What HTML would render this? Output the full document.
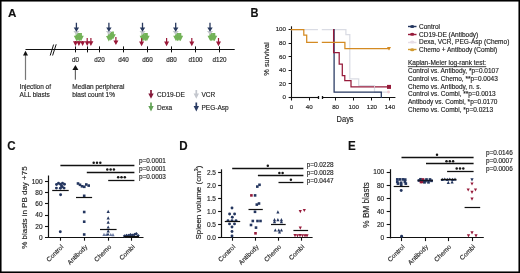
<!DOCTYPE html>
<html><head><meta charset="utf-8"><style>
html,body{margin:0;padding:0;background:#fff;}
body{width:520px;height:273px;overflow:hidden;}
svg{display:block;font-family:"Liberation Sans", sans-serif;will-change:transform;filter:blur(0.3px);}
text{stroke:#1e1e1e;stroke-width:0.15px;paint-order:stroke;}
</style></head><body>
<svg width="520" height="273" viewBox="0 0 520 273">
<rect x="0" y="0" width="520" height="273" fill="#fff"/>
<text x="8.1" y="16.9" font-size="11.6" text-anchor="start" fill="#111" font-weight="bold" >A</text>
<line x1="25.5" y1="49.5" x2="234.7" y2="49.5" stroke="#111" stroke-width="1.2" />
<line x1="50.2" y1="55.5" x2="53.6" y2="44.5" stroke="#111" stroke-width="1.0" />
<line x1="52.6" y1="55.5" x2="56.2" y2="44.3" stroke="#111" stroke-width="1.0" />
<line x1="75.5" y1="46.4" x2="75.5" y2="52.4" stroke="#111" stroke-width="1.0" />
<line x1="87.5" y1="46.4" x2="87.5" y2="52.4" stroke="#111" stroke-width="1.0" />
<line x1="99.5" y1="46.4" x2="99.5" y2="52.4" stroke="#111" stroke-width="1.0" />
<line x1="123.5" y1="46.4" x2="123.5" y2="52.4" stroke="#111" stroke-width="1.0" />
<line x1="147.5" y1="46.4" x2="147.5" y2="52.4" stroke="#111" stroke-width="1.0" />
<line x1="171.5" y1="46.4" x2="171.5" y2="52.4" stroke="#111" stroke-width="1.0" />
<line x1="195.5" y1="46.4" x2="195.5" y2="52.4" stroke="#111" stroke-width="1.0" />
<line x1="219.5" y1="46.4" x2="219.5" y2="52.4" stroke="#111" stroke-width="1.0" />
<text x="75.5" y="62.0" font-size="6.3" text-anchor="middle" fill="#1e1e1e" font-weight="normal" >d0</text>
<text x="99.5" y="62.0" font-size="6.3" text-anchor="middle" fill="#1e1e1e" font-weight="normal" >d20</text>
<text x="123.5" y="62.0" font-size="6.3" text-anchor="middle" fill="#1e1e1e" font-weight="normal" >d40</text>
<text x="147.5" y="62.0" font-size="6.3" text-anchor="middle" fill="#1e1e1e" font-weight="normal" >d60</text>
<text x="171.5" y="62.0" font-size="6.3" text-anchor="middle" fill="#1e1e1e" font-weight="normal" >d80</text>
<text x="195.5" y="62.0" font-size="6.3" text-anchor="middle" fill="#1e1e1e" font-weight="normal" >d100</text>
<text x="219.5" y="62.0" font-size="6.3" text-anchor="middle" fill="#1e1e1e" font-weight="normal" >d120</text>
<rect x="24.9" y="55.0" width="1.2" height="24.900000000000006" fill="#777"/>
<polygon points="25.50,50.80 28.00,55.50 23.00,55.50" fill="#111" />
<rect x="74.80000000000001" y="69.5" width="1.2" height="10.200000000000003" fill="#666"/>
<polygon points="75.40,65.00 78.40,70.00 72.40,70.00" fill="#111" />
<text x="19.6" y="89" font-size="6.5" text-anchor="start" fill="#1e1e1e" font-weight="normal" >Injection of</text>
<text x="19.6" y="96.6" font-size="6.5" text-anchor="start" fill="#1e1e1e" font-weight="normal" >ALL blasts</text>
<text x="72.3" y="89" font-size="6.5" text-anchor="start" fill="#1e1e1e" font-weight="normal" >Median peripheral</text>
<text x="72.3" y="96.6" font-size="6.5" text-anchor="start" fill="#1e1e1e" font-weight="normal" >blast count 1%</text>
<polygon points="75.70,33.00 77.50,33.00 77.50,35.80 79.40,35.80 76.60,41.20 73.80,35.80 75.70,35.80" fill="#72b257" />
<polygon points="77.10,33.00 78.90,33.00 78.90,35.80 80.80,35.80 78.00,41.20 75.20,35.80 77.10,35.80" fill="#72b257" />
<polygon points="78.60,33.00 80.40,33.00 80.40,35.80 82.30,35.80 79.50,41.20 76.70,35.80 78.60,35.80" fill="#72b257" />
<polygon points="80.10,33.00 81.90,33.00 81.90,35.80 83.80,35.80 81.00,41.20 78.20,35.80 80.10,35.80" fill="#72b257" />
<polygon points="75.70,29.00 77.10,29.00 77.10,30.90 79.40,30.90 76.40,35.00 73.40,30.90 75.70,30.90" fill="#c3c7cc" />
<polygon points="75.75,22.70 77.05,22.70 77.05,27.40 79.10,27.40 76.40,31.80 73.70,27.40 75.75,27.40" fill="#28395e" />
<polygon points="74.90,41.00 76.10,41.00 76.10,41.30 78.00,41.30 75.50,45.90 73.00,41.30 74.90,41.30" fill="#9a1838" />
<polygon points="78.30,41.00 79.50,41.00 79.50,41.30 81.40,41.30 78.90,45.90 76.40,41.30 78.30,41.30" fill="#9a1838" />
<polygon points="82.00,41.00 83.20,41.00 83.20,41.30 85.10,41.30 82.60,45.90 80.10,41.30 82.00,41.30" fill="#9a1838" />
<polygon points="86.60,38.10 87.80,38.10 87.80,41.30 89.70,41.30 87.20,45.90 84.70,41.30 86.60,41.30" fill="#9a1838" />
<polygon points="90.30,38.10 91.50,38.10 91.50,41.30 93.40,41.30 90.90,45.90 88.40,41.30 90.30,41.30" fill="#9a1838" />
<polygon points="112.10,31.40 113.90,31.40 113.90,34.20 115.80,34.20 113.00,39.60 110.20,34.20 112.10,34.20" fill="#72b257" />
<polygon points="110.70,32.00 112.50,32.00 112.50,34.80 114.40,34.80 111.60,40.20 108.80,34.80 110.70,34.80" fill="#72b257" />
<polygon points="109.30,32.60 111.10,32.60 111.10,35.40 113.00,35.40 110.20,40.80 107.40,35.40 109.30,35.40" fill="#72b257" />
<polygon points="107.90,33.20 109.70,33.20 109.70,36.00 111.60,36.00 108.80,41.40 106.00,36.00 107.90,36.00" fill="#72b257" />
<polygon points="108.20,29.00 109.60,29.00 109.60,30.90 111.90,30.90 108.90,35.00 105.90,30.90 108.20,30.90" fill="#c3c7cc" />
<polygon points="108.25,22.70 109.55,22.70 109.55,27.40 111.60,27.40 108.90,31.80 106.20,27.40 108.25,27.40" fill="#28395e" />
<polygon points="115.30,37.00 116.50,37.00 116.50,40.60 118.40,40.60 115.90,45.10 113.40,40.60 115.30,40.60" fill="#9a1838" />
<polygon points="141.50,33.00 143.30,33.00 143.30,35.80 145.20,35.80 142.40,41.20 139.60,35.80 141.50,35.80" fill="#72b257" />
<polygon points="143.00,33.00 144.80,33.00 144.80,35.80 146.70,35.80 143.90,41.20 141.10,35.80 143.00,35.80" fill="#72b257" />
<polygon points="144.50,33.00 146.30,33.00 146.30,35.80 148.20,35.80 145.40,41.20 142.60,35.80 144.50,35.80" fill="#72b257" />
<polygon points="146.00,33.00 147.80,33.00 147.80,35.80 149.70,35.80 146.90,41.20 144.10,35.80 146.00,35.80" fill="#72b257" />
<polygon points="141.80,29.00 143.20,29.00 143.20,30.90 145.50,30.90 142.50,35.00 139.50,30.90 141.80,30.90" fill="#c3c7cc" />
<polygon points="141.85,22.70 143.15,22.70 143.15,27.40 145.20,27.40 142.50,31.80 139.80,27.40 141.85,27.40" fill="#28395e" />
<polygon points="141.00,38.30 142.20,38.30 142.20,41.60 144.10,41.60 141.60,46.20 139.10,41.60 141.00,41.60" fill="#9a1838" />
<polygon points="166.00,38.10 167.20,38.10 167.20,41.60 169.10,41.60 166.60,46.20 164.10,41.60 166.00,41.60" fill="#9a1838" />
<polygon points="175.10,33.00 176.90,33.00 176.90,35.80 178.80,35.80 176.00,41.20 173.20,35.80 175.10,35.80" fill="#72b257" />
<polygon points="176.60,33.00 178.40,33.00 178.40,35.80 180.30,35.80 177.50,41.20 174.70,35.80 176.60,35.80" fill="#72b257" />
<polygon points="178.10,33.00 179.90,33.00 179.90,35.80 181.80,35.80 179.00,41.20 176.20,35.80 178.10,35.80" fill="#72b257" />
<polygon points="179.50,33.00 181.30,33.00 181.30,35.80 183.20,35.80 180.40,41.20 177.60,35.80 179.50,35.80" fill="#72b257" />
<polygon points="175.00,29.00 176.40,29.00 176.40,30.90 178.70,30.90 175.70,35.00 172.70,30.90 175.00,30.90" fill="#c3c7cc" />
<polygon points="175.05,22.70 176.35,22.70 176.35,27.40 178.40,27.40 175.70,31.80 173.00,27.40 175.05,27.40" fill="#28395e" />
<polygon points="191.20,38.10 192.40,38.10 192.40,41.60 194.30,41.60 191.80,46.20 189.30,41.60 191.20,41.60" fill="#9a1838" />
<polygon points="209.40,33.00 211.20,33.00 211.20,35.80 213.10,35.80 210.30,41.20 207.50,35.80 209.40,35.80" fill="#72b257" />
<polygon points="210.80,33.00 212.60,33.00 212.60,35.80 214.50,35.80 211.70,41.20 208.90,35.80 210.80,35.80" fill="#72b257" />
<polygon points="212.20,33.00 214.00,33.00 214.00,35.80 215.90,35.80 213.10,41.20 210.30,35.80 212.20,35.80" fill="#72b257" />
<polygon points="213.50,33.00 215.30,33.00 215.30,35.80 217.20,35.80 214.40,41.20 211.60,35.80 213.50,35.80" fill="#72b257" />
<polygon points="209.30,29.00 210.70,29.00 210.70,30.90 213.00,30.90 210.00,35.00 207.00,30.90 209.30,30.90" fill="#c3c7cc" />
<polygon points="209.35,22.70 210.65,22.70 210.65,27.40 212.70,27.40 210.00,31.80 207.30,27.40 209.35,27.40" fill="#28395e" />
<polygon points="217.90,38.10 219.10,38.10 219.10,41.60 221.00,41.60 218.50,46.20 216.00,41.60 217.90,41.60" fill="#9a1838" />
<polygon points="150.15,90.00 151.85,90.00 151.85,93.40 153.70,93.40 151.00,98.80 148.30,93.40 150.15,93.40" fill="#85183a" />
<polygon points="150.15,102.60 151.85,102.60 151.85,106.00 153.70,106.00 151.00,111.40 148.30,106.00 150.15,106.00" fill="#62a256" />
<polygon points="195.45,90.00 197.15,90.00 197.15,93.40 199.00,93.40 196.30,98.80 193.60,93.40 195.45,93.40" fill="#c4c7ce" />
<polygon points="195.45,102.60 197.15,102.60 197.15,106.00 199.00,106.00 196.30,111.40 193.60,106.00 195.45,106.00" fill="#293b62" />
<text x="157" y="96.9" font-size="6.5" text-anchor="start" fill="#1e1e1e" font-weight="normal" >CD19-DE</text>
<text x="157" y="109.7" font-size="6.5" text-anchor="start" fill="#1e1e1e" font-weight="normal" >Dexa</text>
<text x="201.5" y="96.9" font-size="6.5" text-anchor="start" fill="#1e1e1e" font-weight="normal" >VCR</text>
<text x="201.5" y="109.7" font-size="6.5" text-anchor="start" fill="#1e1e1e" font-weight="normal" >PEG-Asp</text>
<text x="0" y="0" font-size="12.6" font-weight="bold" fill="#111" transform="translate(250.5,16.8) scale(0.88,1)">B</text>
<line x1="291.5" y1="26.3" x2="291.5" y2="100.5" stroke="#111" stroke-width="1.1" />
<line x1="288.6" y1="97.5" x2="318.7" y2="97.5" stroke="#111" stroke-width="1.1" />
<line x1="322.2" y1="97.5" x2="395.4" y2="97.5" stroke="#111" stroke-width="1.1" />
<line x1="318.5" y1="96.0" x2="318.5" y2="99.0" stroke="#111" stroke-width="1.3" />
<line x1="322.5" y1="96.0" x2="322.5" y2="99.0" stroke="#111" stroke-width="1.3" />
<line x1="288.6" y1="29.5" x2="291.4" y2="29.5" stroke="#111" stroke-width="1.0" />
<line x1="288.6" y1="43.5" x2="291.4" y2="43.5" stroke="#111" stroke-width="1.0" />
<line x1="288.6" y1="56.5" x2="291.4" y2="56.5" stroke="#111" stroke-width="1.0" />
<line x1="288.6" y1="70.5" x2="291.4" y2="70.5" stroke="#111" stroke-width="1.0" />
<line x1="288.6" y1="83.5" x2="291.4" y2="83.5" stroke="#111" stroke-width="1.0" />
<text x="286.0" y="31.399999999999995" font-size="6.2" text-anchor="end" fill="#1e1e1e" font-weight="normal" >100</text>
<text x="286.0" y="44.959999999999994" font-size="6.2" text-anchor="end" fill="#1e1e1e" font-weight="normal" >80</text>
<text x="286.0" y="58.519999999999996" font-size="6.2" text-anchor="end" fill="#1e1e1e" font-weight="normal" >60</text>
<text x="286.0" y="72.08" font-size="6.2" text-anchor="end" fill="#1e1e1e" font-weight="normal" >40</text>
<text x="286.0" y="85.64" font-size="6.2" text-anchor="end" fill="#1e1e1e" font-weight="normal" >20</text>
<text x="286.0" y="99.2" font-size="6.2" text-anchor="end" fill="#1e1e1e" font-weight="normal" >0</text>
<line x1="309.5" y1="97.5" x2="309.5" y2="100.5" stroke="#111" stroke-width="1.0" />
<line x1="335.5" y1="97.5" x2="335.5" y2="100.5" stroke="#111" stroke-width="1.0" />
<line x1="353.5" y1="97.5" x2="353.5" y2="100.5" stroke="#111" stroke-width="1.0" />
<line x1="371.5" y1="97.5" x2="371.5" y2="100.5" stroke="#111" stroke-width="1.0" />
<line x1="389.5" y1="97.5" x2="389.5" y2="100.5" stroke="#111" stroke-width="1.0" />
<text x="291.5" y="109.2" font-size="6.2" text-anchor="middle" fill="#1e1e1e" font-weight="normal" >0</text>
<text x="309.3" y="109.2" font-size="6.2" text-anchor="middle" fill="#1e1e1e" font-weight="normal" >40</text>
<text x="335.6" y="109.2" font-size="6.2" text-anchor="middle" fill="#1e1e1e" font-weight="normal" >80</text>
<text x="353.7" y="109.2" font-size="6.2" text-anchor="middle" fill="#1e1e1e" font-weight="normal" >100</text>
<text x="371.9" y="109.2" font-size="6.2" text-anchor="middle" fill="#1e1e1e" font-weight="normal" >120</text>
<text x="390" y="109.2" font-size="6.2" text-anchor="middle" fill="#1e1e1e" font-weight="normal" >140</text>
<text x="0" y="0" font-size="9" text-anchor="middle" fill="#1e1e1e" transform="translate(345.1,121.8) scale(0.83,1)">Days</text>
<text x="0" y="0" font-size="7.3" text-anchor="middle" fill="#1e1e1e" font-weight="normal" transform="translate(268.9,59) rotate(-90)">% survival</text>
<polyline points="291.40,29.60 317.30,29.60" fill="none" stroke="#dadce4" stroke-width="1.25" stroke-linejoin="miter" stroke-linecap="square" />
<polyline points="322.40,29.60 345.90,29.60 345.90,34.50 349.80,34.50 349.80,78.80 358.70,78.80 358.70,85.50 374.50,85.50 374.50,92.00 389.00,92.00" fill="none" stroke="#dadce4" stroke-width="1.25" stroke-linejoin="miter" stroke-linecap="square" />
<polyline points="334.10,29.60 334.10,92.00 381.30,92.00 381.30,97.40" fill="none" stroke="#24365f" stroke-width="1.25" stroke-linejoin="miter" stroke-linecap="square" />
<polyline points="333.60,29.60 333.60,52.60 339.20,52.60 339.20,64.00 342.30,64.00 342.30,75.60 344.80,75.60 344.80,80.50 351.00,80.50 351.00,86.90 389.00,86.90" fill="none" stroke="#961a3a" stroke-width="1.25" stroke-linejoin="miter" stroke-linecap="square" />
<line x1="374.5" y1="86.2" x2="374.5" y2="87.6" stroke="#e8e0e4" stroke-width="1.0" />
<polyline points="291.40,29.50 303.80,29.50 303.80,35.00 306.70,35.00 306.70,42.30 317.30,42.30" fill="none" stroke="#d48a22" stroke-width="1.25" stroke-linejoin="miter" stroke-linecap="square" />
<polyline points="322.40,42.30 344.90,42.30 344.90,48.70 389.00,48.70" fill="none" stroke="#d48a22" stroke-width="1.25" stroke-linejoin="miter" stroke-linecap="square" />
<rect x="387" y="84.9" width="4" height="4" fill="#961a3a"/>
<polygon points="387.00,47.10 391.00,47.10 389.00,50.50" fill="#d48a22" />
<circle cx="388.5" cy="92" r="1.4" fill="#efc9d2"/>
<line x1="408" y1="26.5" x2="416.5" y2="26.5" stroke="#24365f" stroke-width="1.4" />
<ellipse cx="412.2" cy="26.4" rx="2.2" ry="1.5" fill="#24365f"/>
<line x1="408" y1="34.5" x2="416.5" y2="34.5" stroke="#961a3a" stroke-width="1.4" />
<ellipse cx="412.2" cy="34.3" rx="2.2" ry="1.5" fill="#961a3a"/>
<line x1="408" y1="42.5" x2="416.5" y2="42.5" stroke="#e6dde6" stroke-width="1.4" />
<ellipse cx="412.2" cy="42.0" rx="2.2" ry="1.5" fill="#e6dde6"/>
<line x1="408" y1="49.5" x2="416.5" y2="49.5" stroke="#d19a30" stroke-width="1.4" />
<ellipse cx="412.2" cy="49.7" rx="2.2" ry="1.5" fill="#d19a30"/>
<text x="419" y="28.7" font-size="6.5" text-anchor="start" fill="#1e1e1e" font-weight="normal" >Control</text>
<text x="419" y="36.6" font-size="6.5" text-anchor="start" fill="#1e1e1e" font-weight="normal" >CD19-DE (Antibody)</text>
<text x="419" y="44.4" font-size="6.5" text-anchor="start" fill="#1e1e1e" font-weight="normal" >Dexa, VCR, PEG-Asp (Chemo)</text>
<text x="419" y="52.2" font-size="6.5" text-anchor="start" fill="#1e1e1e" font-weight="normal" >Chemo + Antibody (Combi)</text>
<text x="408" y="65.4" font-size="6.5" text-anchor="start" fill="#1e1e1e" font-weight="normal" text-decoration="underline">Kaplan-Meier log-rank test:</text>
<text x="408" y="73.1" font-size="6.5" text-anchor="start" fill="#1e1e1e" font-weight="normal" >Control vs. Antibody, *p=0.0107</text>
<text x="408" y="80.88" font-size="6.5" text-anchor="start" fill="#1e1e1e" font-weight="normal" >Control vs. Chemo, **p=0.0043</text>
<text x="408" y="88.66" font-size="6.5" text-anchor="start" fill="#1e1e1e" font-weight="normal" >Chemo vs. Antibody, n. s.</text>
<text x="408" y="96.44" font-size="6.5" text-anchor="start" fill="#1e1e1e" font-weight="normal" >Control vs. Combi, **p=0.0013</text>
<text x="408" y="104.22" font-size="6.5" text-anchor="start" fill="#1e1e1e" font-weight="normal" >Antibody vs. Combi, *p=0.0170</text>
<text x="408" y="112.0" font-size="6.5" text-anchor="start" fill="#1e1e1e" font-weight="normal" >Chemo vs. Combi, *p=0.0213</text>
<text x="0" y="0" font-size="13.3" font-weight="bold" fill="#111" transform="translate(7.2,149.6) scale(0.87,1)">C</text>
<line x1="48.5" y1="175.5" x2="48.5" y2="238.0" stroke="#111" stroke-width="1.2" />
<line x1="45.0" y1="237.5" x2="143.5" y2="237.5" stroke="#111" stroke-width="1.2" />
<line x1="45.0" y1="181.5" x2="48.3" y2="181.5" stroke="#111" stroke-width="1.1" />
<text x="42.6" y="183.70000000000002" font-size="6.5" text-anchor="end" fill="#1e1e1e" font-weight="normal" >100</text>
<line x1="45.0" y1="192.5" x2="48.3" y2="192.5" stroke="#111" stroke-width="1.1" />
<text x="42.6" y="194.90000000000003" font-size="6.5" text-anchor="end" fill="#1e1e1e" font-weight="normal" >80</text>
<line x1="45.0" y1="203.5" x2="48.3" y2="203.5" stroke="#111" stroke-width="1.1" />
<text x="42.6" y="206.10000000000002" font-size="6.5" text-anchor="end" fill="#1e1e1e" font-weight="normal" >60</text>
<line x1="45.0" y1="215.5" x2="48.3" y2="215.5" stroke="#111" stroke-width="1.1" />
<text x="42.6" y="217.3" font-size="6.5" text-anchor="end" fill="#1e1e1e" font-weight="normal" >40</text>
<line x1="45.0" y1="226.5" x2="48.3" y2="226.5" stroke="#111" stroke-width="1.1" />
<text x="42.6" y="228.50000000000003" font-size="6.5" text-anchor="end" fill="#1e1e1e" font-weight="normal" >20</text>
<line x1="60.5" y1="237.4" x2="60.5" y2="240.70000000000002" stroke="#111" stroke-width="1.1" />
<line x1="84.5" y1="237.4" x2="84.5" y2="240.70000000000002" stroke="#111" stroke-width="1.1" />
<line x1="108.5" y1="237.4" x2="108.5" y2="240.70000000000002" stroke="#111" stroke-width="1.1" />
<line x1="131.5" y1="237.4" x2="131.5" y2="240.70000000000002" stroke="#111" stroke-width="1.1" />
<text x="42.6" y="239.70000000000002" font-size="6.5" text-anchor="end" fill="#1e1e1e" font-weight="normal" >0</text>
<text x="0" y="0" font-size="6.5" text-anchor="end" fill="#1e1e1e" transform="translate(63.9,247.3) rotate(-45)">Control</text>
<text x="0" y="0" font-size="6.5" text-anchor="end" fill="#1e1e1e" transform="translate(87.8,247.3) rotate(-45)">Antibody</text>
<text x="0" y="0" font-size="6.5" text-anchor="end" fill="#1e1e1e" transform="translate(111.7,247.3) rotate(-45)">Chemo</text>
<text x="0" y="0" font-size="6.5" text-anchor="end" fill="#1e1e1e" transform="translate(135.2,247.3) rotate(-45)">Combi</text>
<text x="0" y="0" font-size="8.0" text-anchor="middle" fill="#1e1e1e" font-weight="normal" transform="translate(27.3,207.6) rotate(-90)">% blasts in PB day +75</text>
<line x1="60.4" y1="165.5" x2="134.4" y2="165.5" stroke="#111" stroke-width="1.3" />
<circle cx="93.7" cy="162.70000000000002" r="1.25" fill="#151515"/>
<circle cx="97.0" cy="162.70000000000002" r="1.25" fill="#151515"/>
<circle cx="100.3" cy="162.70000000000002" r="1.25" fill="#151515"/>
<text x="139" y="163.4" font-size="6.4" text-anchor="start" fill="#1e1e1e" font-weight="normal" >p=0.0001</text>
<line x1="86.8" y1="172.5" x2="134.4" y2="172.5" stroke="#111" stroke-width="1.3" />
<circle cx="107.3" cy="169.4" r="1.25" fill="#151515"/>
<circle cx="110.6" cy="169.4" r="1.25" fill="#151515"/>
<circle cx="113.89999999999999" cy="169.4" r="1.25" fill="#151515"/>
<text x="139" y="171.1" font-size="6.4" text-anchor="start" fill="#1e1e1e" font-weight="normal" >p=0.0001</text>
<line x1="108.2" y1="180.5" x2="134.4" y2="180.5" stroke="#111" stroke-width="1.3" />
<circle cx="118.2" cy="177.3" r="1.25" fill="#151515"/>
<circle cx="121.5" cy="177.3" r="1.25" fill="#151515"/>
<circle cx="124.8" cy="177.3" r="1.25" fill="#151515"/>
<text x="139" y="178.8" font-size="6.4" text-anchor="start" fill="#1e1e1e" font-weight="normal" >p=0.0003</text>
<circle cx="56.5" cy="184.5" r="1.45" fill="#24365f"/>
<circle cx="58.5" cy="183.3" r="1.45" fill="#24365f"/>
<circle cx="60.5" cy="184.2" r="1.45" fill="#24365f"/>
<circle cx="62.5" cy="183.3" r="1.45" fill="#24365f"/>
<circle cx="64.5" cy="184.3" r="1.45" fill="#24365f"/>
<circle cx="61.5" cy="186" r="1.45" fill="#24365f"/>
<circle cx="62.3" cy="186.8" r="1.45" fill="#24365f"/>
<circle cx="56.4" cy="188.1" r="1.45" fill="#24365f"/>
<circle cx="60.4" cy="188.3" r="1.45" fill="#24365f"/>
<circle cx="64.1" cy="188.1" r="1.45" fill="#24365f"/>
<circle cx="60.6" cy="194.7" r="1.45" fill="#24365f"/>
<circle cx="60.3" cy="231.7" r="1.45" fill="#24365f"/>
<line x1="52.2" y1="190.5" x2="68.7" y2="190.5" stroke="#111" stroke-width="1.2" />
<rect x="76.70" y="182.20" width="2.6" height="2.6" fill="#24365f"/>
<rect x="78.70" y="183.50" width="2.6" height="2.6" fill="#24365f"/>
<rect x="80.70" y="185.00" width="2.6" height="2.6" fill="#24365f"/>
<rect x="83.00" y="185.50" width="2.6" height="2.6" fill="#24365f"/>
<rect x="85.00" y="183.20" width="2.6" height="2.6" fill="#24365f"/>
<rect x="87.40" y="184.30" width="2.6" height="2.6" fill="#24365f"/>
<rect x="82.90" y="194.50" width="2.6" height="2.6" fill="#24365f"/>
<rect x="82.90" y="210.70" width="2.6" height="2.6" fill="#24365f"/>
<rect x="82.90" y="220.40" width="2.6" height="2.6" fill="#24365f"/>
<rect x="82.90" y="233.20" width="2.6" height="2.6" fill="#24365f"/>
<line x1="76" y1="197.5" x2="92.1" y2="197.5" stroke="#111" stroke-width="1.2" />
<polygon points="108.20,209.78 109.80,212.98 106.60,212.98" fill="#24365f" />
<polygon points="108.20,216.28 109.80,219.48 106.60,219.48" fill="#24365f" />
<polygon points="108.20,220.48 109.80,223.68 106.60,223.68" fill="#24365f" />
<polygon points="108.20,225.38 109.80,228.58 106.60,228.58" fill="#24365f" />
<polygon points="108.20,229.28 109.80,232.48 106.60,232.48" fill="#24365f" />
<polygon points="104.00,232.68 105.60,235.88 102.40,235.88" fill="#6a7aa2" />
<polygon points="106.30,232.88 107.90,236.08 104.70,236.08" fill="#6a7aa2" />
<polygon points="110.80,232.88 112.40,236.08 109.20,236.08" fill="#6a7aa2" />
<polygon points="113.00,232.98 114.60,236.18 111.40,236.18" fill="#6a7aa2" />
<polygon points="108.00,232.38 109.60,235.58 106.40,235.58" fill="#24365f" />
<line x1="100" y1="229.5" x2="116.6" y2="229.5" stroke="#111" stroke-width="1.2" />
<polygon points="124.50,234.30 126.20,236.00 124.50,237.70 122.80,236.00" fill="#24365f" />
<polygon points="126.50,233.80 128.20,235.50 126.50,237.20 124.80,235.50" fill="#24365f" />
<polygon points="128.50,233.80 130.20,235.50 128.50,237.20 126.80,235.50" fill="#24365f" />
<polygon points="130.50,233.10 132.20,234.80 130.50,236.50 128.80,234.80" fill="#24365f" />
<polygon points="132.50,233.50 134.20,235.20 132.50,236.90 130.80,235.20" fill="#24365f" />
<polygon points="134.50,232.80 136.20,234.50 134.50,236.20 132.80,234.50" fill="#24365f" />
<polygon points="136.30,232.10 138.00,233.80 136.30,235.50 134.60,233.80" fill="#24365f" />
<polygon points="138.20,233.90 139.90,235.60 138.20,237.30 136.50,235.60" fill="#24365f" />
<line x1="124" y1="236.5" x2="139" y2="236.5" stroke="#111" stroke-width="1.1" />
<text x="0" y="0" font-size="13.3" font-weight="bold" fill="#111" transform="translate(179.2,149.6) scale(0.87,1)">D</text>
<line x1="221.5" y1="169.3" x2="221.5" y2="238.0" stroke="#111" stroke-width="1.2" />
<line x1="218.1" y1="237.5" x2="312.6" y2="237.5" stroke="#111" stroke-width="1.2" />
<line x1="218.1" y1="172.5" x2="221.4" y2="172.5" stroke="#111" stroke-width="1.1" />
<text x="216.0" y="174.70000000000002" font-size="6.5" text-anchor="end" fill="#1e1e1e" font-weight="normal" >2.5</text>
<line x1="218.1" y1="185.5" x2="221.4" y2="185.5" stroke="#111" stroke-width="1.1" />
<text x="216.0" y="187.70000000000002" font-size="6.5" text-anchor="end" fill="#1e1e1e" font-weight="normal" >2.0</text>
<line x1="218.1" y1="198.5" x2="221.4" y2="198.5" stroke="#111" stroke-width="1.1" />
<text x="216.0" y="200.70000000000002" font-size="6.5" text-anchor="end" fill="#1e1e1e" font-weight="normal" >1.5</text>
<line x1="218.1" y1="211.5" x2="221.4" y2="211.5" stroke="#111" stroke-width="1.1" />
<text x="216.0" y="213.70000000000002" font-size="6.5" text-anchor="end" fill="#1e1e1e" font-weight="normal" >1.0</text>
<line x1="218.1" y1="224.5" x2="221.4" y2="224.5" stroke="#111" stroke-width="1.1" />
<text x="216.0" y="226.70000000000002" font-size="6.5" text-anchor="end" fill="#1e1e1e" font-weight="normal" >0.5</text>
<line x1="218.1" y1="237.5" x2="221.4" y2="237.5" stroke="#111" stroke-width="1.1" />
<text x="216.0" y="239.70000000000002" font-size="6.5" text-anchor="end" fill="#1e1e1e" font-weight="normal" >0.0</text>
<line x1="232.5" y1="237.4" x2="232.5" y2="240.70000000000002" stroke="#111" stroke-width="1.1" />
<line x1="255.5" y1="237.4" x2="255.5" y2="240.70000000000002" stroke="#111" stroke-width="1.1" />
<line x1="278.5" y1="237.4" x2="278.5" y2="240.70000000000002" stroke="#111" stroke-width="1.1" />
<line x1="301.5" y1="237.4" x2="301.5" y2="240.70000000000002" stroke="#111" stroke-width="1.1" />
<text x="0" y="0" font-size="6.5" text-anchor="end" fill="#1e1e1e" transform="translate(235.7,247.3) rotate(-45)">Control</text>
<text x="0" y="0" font-size="6.5" text-anchor="end" fill="#1e1e1e" transform="translate(259.1,247.3) rotate(-45)">Antibody</text>
<text x="0" y="0" font-size="6.5" text-anchor="end" fill="#1e1e1e" transform="translate(281.6,247.3) rotate(-45)">Chemo</text>
<text x="0" y="0" font-size="6.5" text-anchor="end" fill="#1e1e1e" transform="translate(304.7,247.3) rotate(-45)">Combi</text>
<text x="0" y="0" font-size="8" text-anchor="middle" fill="#1e1e1e" transform="translate(200.9,202.6) rotate(-90)">Spleen volume (cm<tspan font-size="5.2" dy="-2.8">3</tspan><tspan dy="2.8">)</tspan></text>
<line x1="232.2" y1="168.5" x2="303.4" y2="168.5" stroke="#111" stroke-width="1.3" />
<circle cx="267.8" cy="165.8" r="1.25" fill="#151515"/>
<text x="306.7" y="167.0" font-size="6.4" text-anchor="start" fill="#1e1e1e" font-weight="normal" >p=0.0228</text>
<line x1="257.9" y1="175.5" x2="303.4" y2="175.5" stroke="#111" stroke-width="1.3" />
<circle cx="279.35" cy="173.0" r="1.25" fill="#151515"/>
<circle cx="282.65" cy="173.0" r="1.25" fill="#151515"/>
<text x="306.7" y="174.7" font-size="6.4" text-anchor="start" fill="#1e1e1e" font-weight="normal" >p=0.0028</text>
<line x1="278.5" y1="182.5" x2="303.4" y2="182.5" stroke="#111" stroke-width="1.3" />
<circle cx="290.9" cy="179.8" r="1.25" fill="#151515"/>
<text x="306.7" y="182.7" font-size="6.4" text-anchor="start" fill="#1e1e1e" font-weight="normal" >p=0.0447</text>
<circle cx="232" cy="208" r="1.45" fill="#24365f"/>
<circle cx="229.6" cy="214" r="1.45" fill="#24365f"/>
<circle cx="234.6" cy="214" r="1.45" fill="#24365f"/>
<circle cx="232.3" cy="217.3" r="1.45" fill="#24365f"/>
<circle cx="228" cy="220.6" r="1.45" fill="#24365f"/>
<circle cx="232" cy="220.6" r="1.45" fill="#24365f"/>
<circle cx="236" cy="220.6" r="1.45" fill="#24365f"/>
<circle cx="229.5" cy="223.9" r="1.45" fill="#24365f"/>
<circle cx="234.5" cy="223.9" r="1.45" fill="#24365f"/>
<circle cx="232" cy="227" r="1.45" fill="#24365f"/>
<circle cx="232" cy="231.5" r="1.45" fill="#24365f"/>
<circle cx="232" cy="236" r="1.45" fill="#24365f"/>
<line x1="224.8" y1="221.5" x2="240.2" y2="221.5" stroke="#111" stroke-width="1.2" />
<rect x="256.00" y="185.30" width="2.6" height="2.6" fill="#24365f"/>
<rect x="258.20" y="183.50" width="2.6" height="2.6" fill="#24365f"/>
<rect x="250.10" y="194.10" width="2.6" height="2.6" fill="#961a3a"/>
<rect x="253.80" y="194.10" width="2.6" height="2.6" fill="#24365f"/>
<rect x="255.50" y="203.30" width="2.6" height="2.6" fill="#24365f"/>
<rect x="257.70" y="202.20" width="2.6" height="2.6" fill="#24365f"/>
<rect x="253.70" y="210.50" width="2.6" height="2.6" fill="#24365f"/>
<rect x="251.50" y="219.70" width="2.6" height="2.6" fill="#24365f"/>
<rect x="256.20" y="219.70" width="2.6" height="2.6" fill="#24365f"/>
<rect x="259.20" y="219.70" width="2.6" height="2.6" fill="#24365f"/>
<rect x="249.70" y="223.70" width="2.6" height="2.6" fill="#24365f"/>
<rect x="254.70" y="226.30" width="2.6" height="2.6" fill="#24365f"/>
<rect x="254.20" y="232.00" width="2.6" height="2.6" fill="#961a3a"/>
<line x1="248.5" y1="209.5" x2="262.8" y2="209.5" stroke="#111" stroke-width="1.2" />
<polygon points="277.90,210.28 279.50,213.48 276.30,213.48" fill="#24365f" />
<polygon points="274.50,218.08 276.10,221.28 272.90,221.28" fill="#24365f" />
<polygon points="277.90,218.08 279.50,221.28 276.30,221.28" fill="#24365f" />
<polygon points="281.40,218.08 283.00,221.28 279.80,221.28" fill="#24365f" />
<polygon points="274.50,220.08 276.10,223.28 272.90,223.28" fill="#24365f" />
<polygon points="281.40,220.08 283.00,223.28 279.80,223.28" fill="#24365f" />
<polygon points="275.30,228.38 276.90,231.58 273.70,231.58" fill="#24365f" />
<polygon points="278.80,228.38 280.40,231.58 277.20,231.58" fill="#24365f" />
<polygon points="281.40,228.38 283.00,231.58 279.80,231.58" fill="#24365f" />
<polygon points="279.50,230.38 281.10,233.58 277.90,233.58" fill="#24365f" />
<line x1="271" y1="224.5" x2="285.7" y2="224.5" stroke="#111" stroke-width="1.2" />
<polygon points="300.30,213.32 301.90,210.12 298.70,210.12" fill="#961a3a" />
<polygon points="304.30,212.12 305.90,208.92 302.70,208.92" fill="#961a3a" />
<polygon points="300.30,229.72 301.90,226.52 298.70,226.52" fill="#961a3a" />
<polygon points="295.00,237.22 296.60,234.02 293.40,234.02" fill="#961a3a" />
<polygon points="297.50,237.52 299.10,234.32 295.90,234.32" fill="#961a3a" />
<polygon points="300.00,237.22 301.60,234.02 298.40,234.02" fill="#961a3a" />
<polygon points="302.50,237.52 304.10,234.32 300.90,234.32" fill="#961a3a" />
<polygon points="305.00,237.42 306.60,234.22 303.40,234.22" fill="#961a3a" />
<polygon points="307.00,237.52 308.60,234.32 305.40,234.32" fill="#961a3a" />
<line x1="293.4" y1="230.5" x2="308.1" y2="230.5" stroke="#111" stroke-width="1.2" />
<text x="0" y="0" font-size="13.3" font-weight="bold" fill="#111" transform="translate(347.9,149.6) scale(0.87,1)">E</text>
<line x1="390.5" y1="169.2" x2="390.5" y2="238.4" stroke="#111" stroke-width="1.2" />
<line x1="386.7" y1="237.5" x2="483.8" y2="237.5" stroke="#111" stroke-width="1.2" />
<line x1="386.7" y1="172.5" x2="390.0" y2="172.5" stroke="#111" stroke-width="1.1" />
<text x="384.2" y="174.40000000000003" font-size="6.5" text-anchor="end" fill="#1e1e1e" font-weight="normal" >100</text>
<line x1="386.7" y1="185.5" x2="390.0" y2="185.5" stroke="#111" stroke-width="1.1" />
<text x="384.2" y="187.54000000000002" font-size="6.5" text-anchor="end" fill="#1e1e1e" font-weight="normal" >80</text>
<line x1="386.7" y1="198.5" x2="390.0" y2="198.5" stroke="#111" stroke-width="1.1" />
<text x="384.2" y="200.68" font-size="6.5" text-anchor="end" fill="#1e1e1e" font-weight="normal" >60</text>
<line x1="386.7" y1="211.5" x2="390.0" y2="211.5" stroke="#111" stroke-width="1.1" />
<text x="384.2" y="213.82000000000002" font-size="6.5" text-anchor="end" fill="#1e1e1e" font-weight="normal" >40</text>
<line x1="386.7" y1="224.5" x2="390.0" y2="224.5" stroke="#111" stroke-width="1.1" />
<text x="384.2" y="226.96000000000004" font-size="6.5" text-anchor="end" fill="#1e1e1e" font-weight="normal" >20</text>
<line x1="401.5" y1="237.8" x2="401.5" y2="241.10000000000002" stroke="#111" stroke-width="1.1" />
<line x1="425.5" y1="237.8" x2="425.5" y2="241.10000000000002" stroke="#111" stroke-width="1.1" />
<line x1="448.5" y1="237.8" x2="448.5" y2="241.10000000000002" stroke="#111" stroke-width="1.1" />
<line x1="472.5" y1="237.8" x2="472.5" y2="241.10000000000002" stroke="#111" stroke-width="1.1" />
<text x="384.2" y="240.10000000000002" font-size="6.5" text-anchor="end" fill="#1e1e1e" font-weight="normal" >0</text>
<text x="0" y="0" font-size="6.5" text-anchor="end" fill="#1e1e1e" transform="translate(405.1,247.3) rotate(-45)">Control</text>
<text x="0" y="0" font-size="6.5" text-anchor="end" fill="#1e1e1e" transform="translate(428.5,247.3) rotate(-45)">Antibody</text>
<text x="0" y="0" font-size="6.5" text-anchor="end" fill="#1e1e1e" transform="translate(451.6,247.3) rotate(-45)">Chemo</text>
<text x="0" y="0" font-size="6.5" text-anchor="end" fill="#1e1e1e" transform="translate(475.6,247.3) rotate(-45)">Combi</text>
<text x="0" y="0" font-size="8.2" text-anchor="middle" fill="#1e1e1e" font-weight="normal" transform="translate(368.5,204.9) rotate(-90)">% BM blasts</text>
<line x1="401.5" y1="157.5" x2="473.6" y2="157.5" stroke="#111" stroke-width="1.3" />
<circle cx="437.0" cy="154.70000000000002" r="1.25" fill="#151515"/>
<text x="485.9" y="155.3" font-size="6.4" text-anchor="start" fill="#1e1e1e" font-weight="normal" >p=0.0146</text>
<line x1="426.0" y1="163.5" x2="473.6" y2="163.5" stroke="#111" stroke-width="1.3" />
<circle cx="446.5" cy="161.20000000000002" r="1.25" fill="#151515"/>
<circle cx="449.8" cy="161.20000000000002" r="1.25" fill="#151515"/>
<circle cx="453.1" cy="161.20000000000002" r="1.25" fill="#151515"/>
<text x="485.9" y="163.1" font-size="6.4" text-anchor="start" fill="#1e1e1e" font-weight="normal" >p=0.0007</text>
<line x1="447.1" y1="171.5" x2="473.6" y2="171.5" stroke="#111" stroke-width="1.3" />
<circle cx="456.7" cy="168.5" r="1.25" fill="#151515"/>
<circle cx="460.0" cy="168.5" r="1.25" fill="#151515"/>
<circle cx="463.3" cy="168.5" r="1.25" fill="#151515"/>
<text x="485.9" y="170.7" font-size="6.4" text-anchor="start" fill="#1e1e1e" font-weight="normal" >p=0.0006</text>
<rect x="395.95" y="178.05" width="2.7" height="2.7" fill="#24365f"/>
<rect x="398.55" y="178.05" width="2.7" height="2.7" fill="#24365f"/>
<rect x="401.55" y="178.05" width="2.7" height="2.7" fill="#24365f"/>
<rect x="403.85" y="178.25" width="2.7" height="2.7" fill="#24365f"/>
<rect x="395.95" y="180.45" width="2.7" height="2.7" fill="#24365f"/>
<rect x="403.55" y="180.45" width="2.7" height="2.7" fill="#24365f"/>
<rect x="396.65" y="182.25" width="2.7" height="2.7" fill="#24365f"/>
<rect x="399.75" y="181.45" width="2.7" height="2.7" fill="#24365f"/>
<rect x="404.45" y="182.25" width="2.7" height="2.7" fill="#24365f"/>
<rect x="399.85" y="183.65" width="2.7" height="2.7" fill="#24365f"/>
<circle cx="401.2" cy="190.5" r="1.45" fill="#24365f"/>
<circle cx="401.6" cy="236.2" r="1.45" fill="#24365f"/>
<line x1="393.7" y1="186.5" x2="409.2" y2="186.5" stroke="#111" stroke-width="1.2" />
<rect x="417.65" y="179.15" width="2.7" height="2.7" fill="#24365f"/>
<rect x="419.15" y="177.95" width="2.7" height="2.7" fill="#24365f"/>
<rect x="419.65" y="180.65" width="2.7" height="2.7" fill="#961a3a"/>
<rect x="421.65" y="178.15" width="2.7" height="2.7" fill="#961a3a"/>
<rect x="421.15" y="180.45" width="2.7" height="2.7" fill="#961a3a"/>
<rect x="423.15" y="180.95" width="2.7" height="2.7" fill="#24365f"/>
<rect x="425.15" y="178.15" width="2.7" height="2.7" fill="#24365f"/>
<rect x="424.15" y="179.65" width="2.7" height="2.7" fill="#24365f"/>
<rect x="427.15" y="180.95" width="2.7" height="2.7" fill="#24365f"/>
<rect x="428.65" y="178.15" width="2.7" height="2.7" fill="#24365f"/>
<rect x="430.15" y="179.45" width="2.7" height="2.7" fill="#24365f"/>
<line x1="417.5" y1="180.5" x2="433.0" y2="180.5" stroke="#151a2a" stroke-width="1.3" />
<polygon points="442.30,177.68 443.90,180.88 440.70,180.88" fill="#24365f" />
<polygon points="444.80,177.38 446.40,180.58 443.20,180.58" fill="#24365f" />
<polygon points="447.30,177.68 448.90,180.88 445.70,180.88" fill="#24365f" />
<polygon points="449.80,177.38 451.40,180.58 448.20,180.58" fill="#24365f" />
<polygon points="452.50,177.68 454.10,180.88 450.90,180.88" fill="#24365f" />
<polygon points="455.00,177.48 456.60,180.68 453.40,180.68" fill="#24365f" />
<polygon points="448.30,180.68 449.90,183.88 446.70,183.88" fill="#24365f" />
<polygon points="452.10,180.28 453.70,183.48 450.50,183.48" fill="#24365f" />
<line x1="440.8" y1="179.5" x2="456.5" y2="179.5" stroke="#111" stroke-width="1.3" />
<polygon points="472.00,181.52 473.60,178.32 470.40,178.32" fill="#24365f" />
<polygon points="472.00,185.62 473.60,182.42 470.40,182.42" fill="#961a3a" />
<polygon points="468.20,191.62 469.80,188.42 466.60,188.42" fill="#961a3a" />
<polygon points="475.50,191.62 477.10,188.42 473.90,188.42" fill="#961a3a" />
<polygon points="472.00,193.92 473.60,190.72 470.40,190.72" fill="#961a3a" />
<polygon points="472.00,200.72 473.60,197.52 470.40,197.52" fill="#961a3a" />
<polygon points="472.00,234.42 473.60,231.22 470.40,231.22" fill="#961a3a" />
<polygon points="468.50,237.52 470.10,234.32 466.90,234.32" fill="#961a3a" />
<polygon points="476.00,237.52 477.60,234.32 474.40,234.32" fill="#961a3a" />
<line x1="464.6" y1="207.5" x2="480.2" y2="207.5" stroke="#111" stroke-width="1.2" />
<rect x="0.75" y="0.75" width="518.5" height="271.5" fill="none" stroke="#000" stroke-width="1.6"/>
</svg>
</body></html>
